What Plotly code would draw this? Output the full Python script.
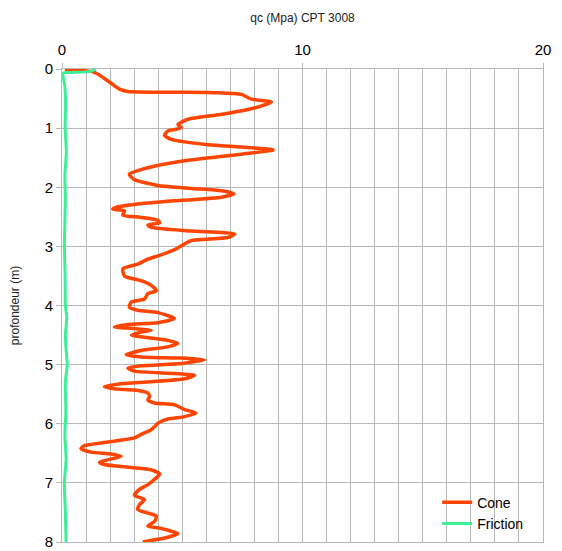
import plotly.graph_objects as go

# Cone resistance (MPa) vs depth (m)
cone_depth = [0.01, 0.056, 0.22, 0.34, 0.38, 0.40, 0.43, 0.51, 0.56, 0.66, 0.77, 0.85, 0.94, 0.99, 1.02,
              1.05, 1.12, 1.19, 1.28, 1.32, 1.37, 1.44, 1.56, 1.67, 1.78, 1.87, 1.97, 2.02, 2.06, 2.11,
              2.17, 2.23, 2.29, 2.33, 2.37, 2.40, 2.47, 2.51, 2.56, 2.60, 2.64, 2.68, 2.74, 2.79, 2.85,
              2.90, 2.99, 3.05, 3.10, 3.16, 3.22, 3.30, 3.38, 3.50, 3.58, 3.66, 3.75, 3.80, 3.89, 3.94,
              4.03, 4.08, 4.12, 4.22, 4.29, 4.32, 4.36, 4.39, 4.42, 4.45, 4.50, 4.53, 4.59, 4.64, 4.70,
              4.76, 4.83, 4.87, 4.89, 4.92, 4.98, 5.02, 5.06, 5.11, 5.15, 5.18, 5.24, 5.29, 5.33, 5.37,
              5.41, 5.43, 5.48, 5.54, 5.60, 5.65, 5.68, 5.76, 5.82, 5.88, 5.92, 5.99, 6.05, 6.10, 6.18,
              6.24, 6.31, 6.37, 6.42, 6.48, 6.51, 6.55, 6.61, 6.65, 6.69, 6.74, 6.78, 6.85, 6.94, 7.03,
              7.11, 7.21, 7.28, 7.37, 7.45, 7.51, 7.56, 7.65, 7.73, 7.76, 7.86, 7.92, 8.00]
cone_qc = [0.12, 1.35, 1.97, 2.39, 2.74, 6.35, 7.46, 7.88, 8.71, 8.0, 6.6, 5.24, 4.82, 4.96, 4.75,
           4.4, 4.26, 4.54, 6.07, 7.46, 8.78, 7.46, 4.96, 3.57, 2.8, 3.0, 3.99, 5.38, 6.63, 7.15,
           6.63, 4.68, 3.01, 2.32, 2.11, 2.6, 2.53, 3.29, 3.99, 4.06, 3.57, 3.71, 5.38, 7.18, 6.9,
           5.38, 4.96, 4.7, 4.4, 3.99, 3.55, 3.15, 2.53, 2.6, 3.29, 3.71, 3.92, 3.57, 3.43, 2.88,
           2.8, 3.15, 3.99, 4.68, 3.99, 2.74, 2.18, 3.01, 3.71, 3.29, 2.88, 3.29, 4.4, 4.82, 4.4,
           3.29, 2.67, 3.29, 4.96, 5.93, 4.96, 3.29, 2.74, 3.01, 4.68, 5.51, 5.1, 3.71, 2.32, 1.76,
           2.18, 3.01, 3.57, 3.64, 3.57, 3.85, 4.68, 5.1, 5.58, 5.1, 4.4, 3.99, 3.85, 3.71, 3.29,
           3.01, 1.9, 0.93, 0.79, 1.21, 2.04, 2.46, 1.9, 1.56, 1.76, 2.88, 3.71, 4.06, 3.85, 3.57,
           3.22, 3.01, 3.43, 3.22, 3.15, 3.57, 3.92, 3.85, 3.57, 3.99, 4.82, 4.4, 3.36]

# Friction vs depth
fric_depth = [0.0, 0.04, 0.06, 0.07, 0.3, 0.6, 1.0, 1.4, 1.8, 2.2, 2.6, 3.0, 3.5, 4.0, 4.2, 4.5,
              4.8, 5.0, 5.3, 5.8, 6.2, 6.6, 7.0, 7.5, 8.0]
fric_val = [1.4, 1.2, 0.4, 0.05, 0.12, 0.15, 0.13, 0.18, 0.12, 0.14, 0.12, 0.1, 0.13, 0.14, 0.2, 0.14,
            0.18, 0.22, 0.14, 0.16, 0.12, 0.17, 0.1, 0.14, 0.17]

x_ticks = [0, 10, 20]
y_ticks = [0, 1, 2, 3, 4, 5, 6, 7, 8]

fig = go.Figure()
fig.add_trace(go.Scatter(x=cone_qc, y=cone_depth, mode="lines", name="Cone",
                         line=dict(color="#FF4500", width=3.5, shape="spline", smoothing=0.6)))
fig.add_trace(go.Scatter(x=fric_val, y=fric_depth, mode="lines", name="Friction",
                         line=dict(color="#3CF096", width=3, shape="spline", smoothing=0.6)))

grid = "#b8b8b8"
W, H = 554, 543
fig.update_layout(
    width=W, height=H,
    paper_bgcolor="white", plot_bgcolor="white",
    margin=dict(l=54, r=19, t=61, b=9, autoexpand=False),
    font=dict(family="Liberation Sans, Arial, sans-serif", color="#000"),
    title=dict(text="qc (Mpa) CPT 3008", x=0.5, xref="paper", xanchor="center",
               y=1 - 10 / H, yref="container", yanchor="middle",
               font=dict(size=12, color="#222")),
    showlegend=True,
    legend=dict(x=0.78, y=0.117, xanchor="left", yanchor="top", bgcolor="rgba(0,0,0,0)",
                font=dict(size=14, color="#000"), tracegroupgap=0, itemwidth=30),
    xaxis=dict(side="top", range=[0, 20], tickvals=x_ticks, ticks="outside", ticklen=5,
               tickcolor=grid, tickfont=dict(size=15), showgrid=True, gridcolor=grid,
               minor=dict(dtick=1, showgrid=True, gridcolor=grid, ticks=""),
               showline=True, linecolor=grid, mirror=True, zeroline=False,
               automargin=False, ticklabelstandoff=2, ticklabeloverflow="allow"),
    yaxis=dict(range=[8, 0], tickvals=y_ticks, ticks="outside", ticklen=5, tickcolor=grid,
               tickfont=dict(size=15), showgrid=True, gridcolor=grid,
               showline=True, linecolor=grid, mirror=True, zeroline=False, automargin=False,
               ticklabeloverflow="allow",
               title=dict(text="profondeur (m)", font=dict(size=12, color="#222"), standoff=24)),
)

fig.write_html("out.html")
